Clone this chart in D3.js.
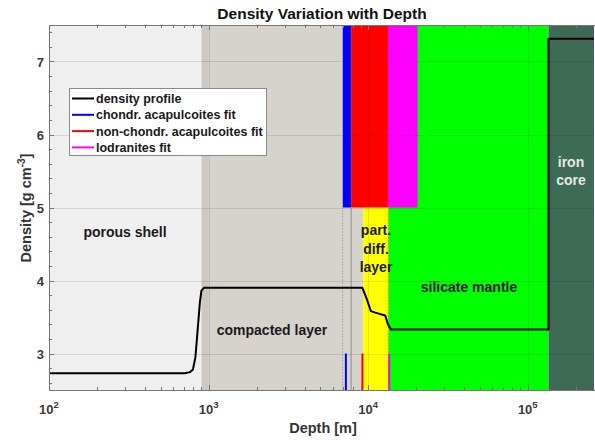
<!DOCTYPE html>
<html><head><meta charset="utf-8">
<script src="https://cdn.jsdelivr.net/npm/d3@7"></script>
<style>body{margin:0;background:#fff}svg{display:block;font-family:"Liberation Sans",Arial,sans-serif}</style>
</head><body><svg id="c" width="595" height="440"></svg>
<script>
// ---- data ----
const profileDepth   = [100, 711, 764, 798, 827, 845, 882, 902, 935, 9200, 9820, 10400, 11070, 12790, 13300, 13880, 134900, 134900, 260000];
const profileDensity = [2.73, 2.73, 2.745, 2.78, 2.95, 3.2, 3.7, 3.86, 3.9, 3.9, 3.74, 3.58, 3.56, 3.52, 3.40, 3.33, 3.33, 7.31, 7.31];

const layerNames  = ["porous shell", "compacted layer", "part. diff. layer", "silicate mantle", "iron core"];
const layerStart  = [100, 905, 9310, 13400, 134900];
const layerEnd    = [905, 9310, 13400, 134900, 260000];
const layerColors = ["#efefef", "#d6d2cc", "#ffff00", "#00ff00", "#3d6b56"];

const fitNames  = ["chondr. acapulcoites fit", "non-chondr. acapulcoites fit", "lodranites fit"];
const fitStart  = [6930, 7820, 13300];
const fitEnd    = [7820, 13300, 20400];
const fitMarker = [7250, 9200, 13550];
const fitColors = ["#0000ff", "#ff0000", "#ff00ff"];

const xTicks = [100, 1000, 10000, 100000];
const xTickExp = ["2", "3", "4", "5"];
const yTicks = [3, 4, 5, 6, 7];

// ---- layout ----
const L = 49, R = 594, T = 25, B = 390;
const svg = d3.select("#c");
const x = d3.scaleLog().domain([100, 260000]).range([L, R]);
const y = d3.scaleLinear().domain([2.5, 7.5]).range([B, T]);

const g = svg.append("g");

// layers
layerNames.forEach((n, i) => {
  g.append("rect").attr("x", x(layerStart[i])).attr("y", T)
    .attr("width", x(layerEnd[i]) - x(layerStart[i])).attr("height", B - T)
    .attr("fill", layerColors[i]);
});
// slightly darker transition strip at the start of compacted layer
g.append("rect").attr("x", x(layerStart[1])).attr("y", T)
  .attr("width", x(1000) - x(layerStart[1])).attr("height", B - T)
  .attr("fill", "#ccc7c1");

// fit bands (top part)
fitNames.forEach((n, i) => {
  g.append("rect").attr("x", x(fitStart[i])).attr("y", T)
    .attr("width", x(fitEnd[i]) - x(fitStart[i])).attr("height", y(5) - T)
    .attr("fill", fitColors[i]);
});
// boundary lines in compacted layer
g.append("line").attr("x1", x(fitStart[0])).attr("x2", x(fitStart[0]))
  .attr("y1", y(5)).attr("y2", B).attr("stroke", "#888").attr("stroke-width", 1).attr("stroke-dasharray", "1,2");
g.append("line").attr("x1", x(fitEnd[0])).attr("x2", x(fitEnd[0]))
  .attr("y1", y(5)).attr("y2", B).attr("stroke", "#a8a39d").attr("stroke-width", 1.5);
g.append("line").attr("x1", x(layerStart[3])).attr("x2", x(layerStart[3]))
  .attr("y1", y(5)).attr("y2", B).attr("stroke", "#8a8a30").attr("stroke-width", 1).attr("stroke-dasharray", "1,2");

// grid
const grid = svg.append("g").attr("stroke", "rgba(0,0,0,0.10)").attr("stroke-width", 1);
xTicks.forEach(t => grid.append("line").attr("x1", Math.round(x(t)) + 0.5).attr("x2", Math.round(x(t)) + 0.5).attr("y1", T).attr("y2", B));
yTicks.forEach(t => grid.append("line").attr("y1", Math.round(y(t)) + 0.5).attr("y2", Math.round(y(t)) + 0.5).attr("x1", L).attr("x2", R));

// fit markers at bottom
fitMarker.forEach((d, i) => {
  svg.append("line").attr("x1", x(d)).attr("x2", x(d)).attr("y1", y(3)).attr("y2", B)
    .attr("stroke", fitColors[i]).attr("stroke-width", 2);
});

// density profile
const line = d3.line().x((d, i) => x(profileDepth[i])).y((d, i) => y(profileDensity[i]));
svg.append("path").datum(profileDepth).attr("d", line)
  .attr("fill", "none").attr("stroke", "#000").attr("stroke-width", 2).attr("stroke-linejoin", "round");

// region labels
const lab = svg.append("g").attr("font-weight", "bold").attr("font-size", 14).attr("fill", "#1a1a1a").attr("text-anchor", "middle");
lab.append("text").attr("x", 125).attr("y", 237).text("porous shell");
lab.append("text").attr("x", 272).attr("y", 335).text("compacted layer");
const pd = lab.append("text").attr("x", 376).attr("y", 235);
["part.", "diff.", "layer"].forEach((s, i) => pd.append("tspan").attr("x", 376).attr("dy", i ? 18.5 : 0).text(s));
lab.append("text").attr("x", 469).attr("y", 292).text("silicate mantle");
const ic = lab.append("text").attr("x", 571).attr("y", 167).attr("fill", "#e8e8e8");
["iron", "core"].forEach((s, i) => ic.append("tspan").attr("x", 571).attr("dy", i ? 17.5 : 0).text(s));

// axes frame and ticks
const ax = svg.append("g").attr("stroke", "#777").attr("stroke-width", 1).attr("fill", "none");
ax.append("line").attr("x1", L + 0.5).attr("x2", L + 0.5).attr("y1", T).attr("y2", B + 0.5);
ax.append("line").attr("x1", L).attr("x2", R + 1).attr("y1", B + 0.5).attr("y2", B + 0.5);
ax.append("line").attr("x1", L).attr("x2", R + 1).attr("y1", T + 0.5).attr("y2", T + 0.5);
// x ticks (major + minor)
const xAll = [];
for (let e = 2; e <= 5; e++) for (let m = 1; m <= 9; m++) { const v = m * Math.pow(10, e); if (v <= 260000) xAll.push(v); }
xAll.forEach(v => {
  const major = xTicks.includes(v);
  const len = major ? 5 : 3, px = Math.round(x(v)) + 0.5;
  ax.append("line").attr("x1", px).attr("x2", px).attr("y1", B).attr("y2", B - len);
  ax.append("line").attr("x1", px).attr("x2", px).attr("y1", T).attr("y2", T + len);
});
// y ticks
d3.range(2.6, 7.5, 0.2).forEach(v => {
  const major = Math.abs(v - Math.round(v)) < 1e-6;
  const py = Math.round(y(v)) + 0.5;
  ax.append("line").attr("x1", L).attr("x2", L + (major ? 5 : 3)).attr("y1", py).attr("y2", py);
});

// tick labels
const tl = svg.append("g").attr("font-weight", "bold").attr("fill", "#3a3a3a");
xTicks.forEach((t, i) => {
  const tx = tl.append("text").attr("x", x(t)).attr("y", 414).attr("text-anchor", "middle").attr("font-size", 13);
  tx.append("tspan").text("10");
  tx.append("tspan").attr("dy", -6).attr("font-size", 9.5).text(xTickExp[i]);
});
yTicks.forEach(t => {
  tl.append("text").attr("x", 44).attr("y", y(t) + 5).attr("text-anchor", "end").attr("font-size", 13).text(t);
});

// axis titles
svg.append("text").attr("x", 322).attr("y", 19).attr("text-anchor", "middle").attr("font-weight", "bold")
  .attr("font-size", 15.5).attr("fill", "#111").text("Density Variation with Depth");
svg.append("text").attr("x", 323).attr("y", 433).attr("text-anchor", "middle").attr("font-weight", "bold")
  .attr("font-size", 14.5).attr("fill", "#333").text("Depth [m]");
const yl = svg.append("text").attr("transform", "translate(31,208) rotate(-90)").attr("text-anchor", "middle")
  .attr("font-weight", "bold").attr("font-size", 14.5).attr("fill", "#333");
yl.append("tspan").text("Density [g cm");
yl.append("tspan").attr("dy", -6).attr("font-size", 10).text("-3");
yl.append("tspan").attr("dy", 6).text("]");

// legend
const lg = svg.append("g");
lg.append("rect").attr("x", 69.5).attr("y", 88.5).attr("width", 197).attr("height", 67)
  .attr("fill", "#fff").attr("stroke", "#8a8a8a");
const legNames = ["density profile"].concat(fitNames);
const legColors = ["#000"].concat(fitColors);
legNames.forEach((n, i) => {
  const yy = 98.5 + i * 16.3;
  lg.append("line").attr("x1", 72).attr("x2", 94).attr("y1", yy).attr("y2", yy).attr("stroke", legColors[i]).attr("stroke-width", 2);
  lg.append("text").attr("x", 96).attr("y", yy + 4.5).attr("font-size", 12.5).attr("font-weight", "bold").attr("fill", "#1a1a1a").text(n);
});
</script></body></html>
